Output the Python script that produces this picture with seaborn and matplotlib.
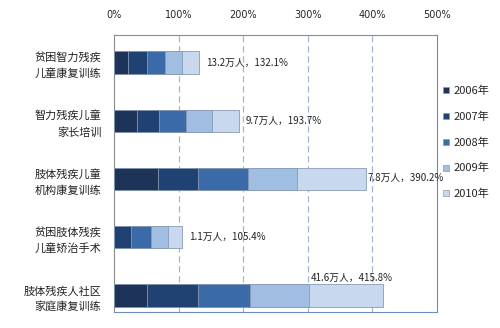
import matplotlib
matplotlib.use("Agg")
import matplotlib.pyplot as plt
from matplotlib.lines import Line2D
import seaborn as sns
import pandas as pd
import numpy as np

# ---- data ----
categories = ["贫困智力残疾\n儿童康复训练", "智力残疾儿童\n家长培训", "肢体残疾儿童\n机构康复训练",
              "贫困肢体残疾\n儿童矫治手术", "肢体残疾人社区\n家庭康复训练"]
years = ["2006年", "2007年", "2008年", "2009年", "2010年"]
v2006 = [22.1, 35.1, 68.6, 0.0, 51.4]
v2007 = [28.5, 34.9, 62.0, 26.4, 78.8]
v2008 = [28.4, 41.3, 77.4, 30.5, 80.9]
v2009 = [25.9, 39.7, 74.9, 26.4, 90.0]
v2010 = [27.2, 42.7, 107.3, 22.1, 114.7]
totals_text = ["13.2万人，132.1%", "9.7万人，193.7%", "7.8万人，390.2%",
               "1.1万人，105.4%", "41.6万人，415.8%"]
xticks = [0, 100, 200, 300, 400, 500]
xtick_labels = ["0%", "100%", "200%", "300%", "400%", "500%"]

colors = ["#1d3358", "#1f4272", "#3a6aa8", "#a0bde2", "#c8d9ef"]

sns.set_theme(style="white")
plt.rcParams["font.family"] = ["Noto Sans CJK SC", "DejaVu Sans"]

fig = plt.figure(figsize=(5.0, 3.28), dpi=100)
ax = fig.add_axes([114/500, 1-312/328, (437-114)/500, (312-35)/328])

series = [v2006, v2007, v2008, v2009, v2010]
cum = np.cumsum(np.array(series), axis=0)
for i in range(len(years) - 1, -1, -1):
    d = pd.DataFrame({"cat": categories, "val": cum[i]})
    sns.barplot(data=d, x="val", y="cat", orient="h", color=colors[i],
                width=0.38, edgecolor="#8a9bb3", linewidth=0.6, ax=ax,
                saturation=1, zorder=3)

ax.set_xlim(0, 500)
ax.set_ylim(4.283, -0.472)
ax.set_xticks(xticks)
ax.set_xticklabels(xtick_labels, fontsize=7, family="DejaVu Sans")
ax.xaxis.tick_top()
ax.tick_params(axis="x", length=0, pad=11)
ax.tick_params(axis="y", length=0, pad=9)
ax.set_yticks(range(len(categories)))
ax.set_yticklabels(categories, fontsize=8, linespacing=1.55, color="#222222")
ax.set_xlabel("")
ax.set_ylabel("")

for xv in xticks[1:-1]:
    ax.axvline(xv, color="#a3b7d3", lw=0.9, ls=(0, (5, 3)), zorder=1)

for s in ["left", "top"]:
    ax.spines[s].set_color("#8c8c8c")
    ax.spines[s].set_linewidth(0.8)
for s in ["right", "bottom"]:
    ax.spines[s].set_color("#6a8cc0")
    ax.spines[s].set_linewidth(0.8)

totals = cum[-1]
for i, (t, txt) in enumerate(zip(totals, totals_text)):
    if i == len(totals) - 1:
        ax.annotate(txt, xy=(t, i), xytext=(-52, 13), textcoords="offset points",
                    fontsize=7, va="center", ha="left", color="#222222")
    elif i == 2:
        ax.annotate(txt, xy=(t, i), xytext=(1, 1), textcoords="offset points",
                    fontsize=7, va="center", ha="left", color="#222222")
    else:
        ax.annotate(txt, xy=(t, i), xytext=(5, 0), textcoords="offset points",
                    fontsize=7, va="center", ha="left", color="#222222")

handles = [Line2D([0], [0], marker="s", ls="", markersize=4, markerfacecolor=c,
                  markeredgecolor="#8a9bb3", markeredgewidth=0.5) for c in colors]
fig.legend(handles, years, loc="upper left", bbox_to_anchor=(443/500, 1-86/328),
           frameon=False, fontsize=8, labelspacing=1.38, handlelength=0.6,
           handletextpad=0.35, borderpad=0, borderaxespad=0)

fig.savefig("out.png", dpi=100, facecolor="white")
